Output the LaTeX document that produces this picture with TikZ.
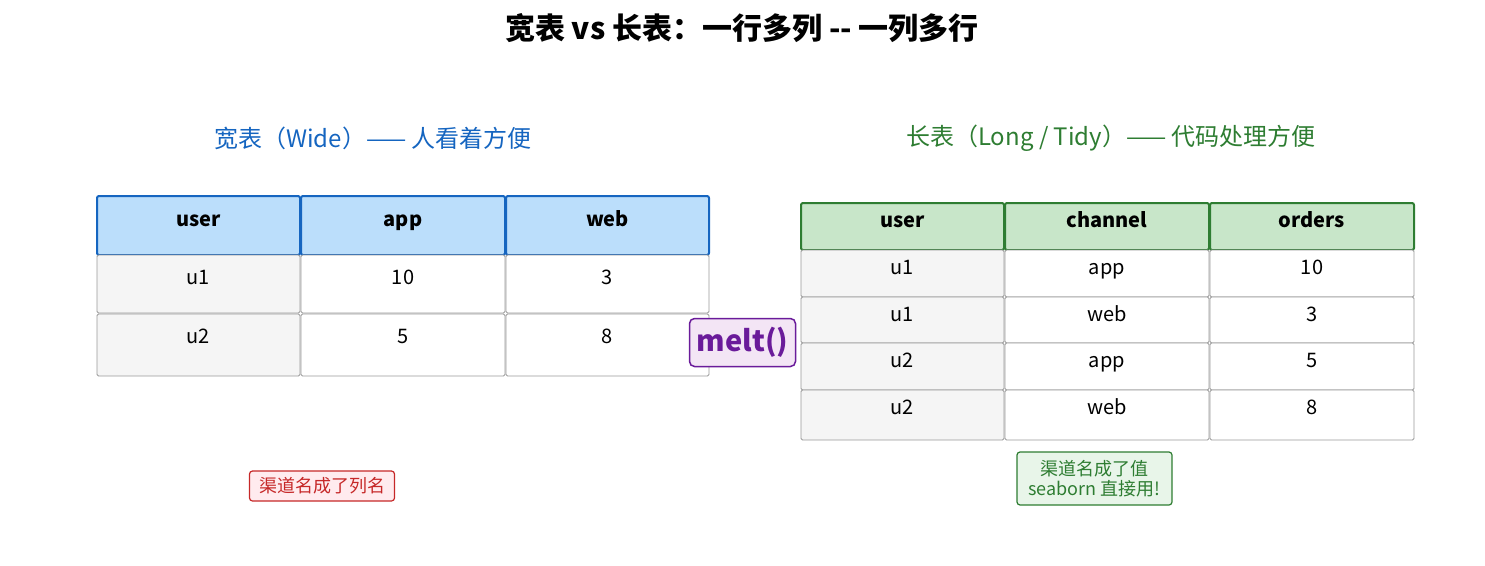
\documentclass[tikz,border=0pt]{standalone}
\usepackage{fontspec}
\setmainfont{Noto Sans CJK SC}
\definecolor{bl}{HTML}{1565C0}\definecolor{blf}{HTML}{BBDEFB}
\definecolor{gr}{HTML}{2E7D32}\definecolor{grf}{HTML}{C8E6C9}
\definecolor{pu}{HTML}{6A1B9A}\definecolor{puf}{HTML}{F3E5F5}
\definecolor{rd}{HTML}{C62828}\definecolor{rdf}{HTML}{FFEBEE}
\definecolor{grl}{HTML}{E8F5E9}
\begin{document}
\begin{tikzpicture}[x=1pt,y=-1pt,
 cell/.style={draw=gray!80,fill=gray!8,rounded corners=1.5pt,line width=0.8pt},
 wcell/.style={draw=gray!80,fill=white,rounded corners=1.5pt,line width=0.8pt},
 bh/.style={draw=bl,fill=blf,rounded corners=2pt,line width=2pt},
 gh/.style={draw=gr,fill=grf,rounded corners=2pt,line width=2pt},
 txt/.style={font=\fontsize{20}{23}\selectfont,inner sep=0pt,text height=14pt,text depth=4pt},
 htxt/.style={font=\fontsize{20}{23}\selectfont\bfseries,inner sep=0pt,text height=14pt,text depth=4pt}]
\useasboundingbox (0,0) rectangle (1485,565);
\node[font=\fontsize{30}{34}\selectfont\bfseries] (title) at (742,28) {宽表 vs 长表：一行多列 {-}{-} 一列多行};
\node[font=\fontsize{24}{28}\selectfont,text=bl] (st1) at (373,138) {宽表（Wide）—— 人看着方便};
\node[font=\fontsize{24}{28}\selectfont,text=gr] (st2) at (1111,138) {长表（Long / Tidy）—— 代码处理方便};
% wide table
\foreach \x/\y/\t [count=\i] in {97/300/user,301/505/app,506/709/web}{
  \draw[bh] (\x,196) rectangle (\y,255);
  \node[htxt] (wh\i) at ({(\x+\y)/2},221) {\t};
}
\foreach \r/\a/\b/\c/\ya/\yb/\yt in {1/u1/10/3/255/313/279,2/u2/5/8/314/376/338}{
  \draw[cell] (97,\ya) rectangle (300,\yb);
  \draw[wcell] (301,\ya) rectangle (505,\yb);
  \draw[wcell] (506,\ya) rectangle (709,\yb);
  \node[txt] (wa\r) at (198,\yt) {\a};
  \node[txt] (wb\r) at (403,\yt) {\b};
  \node[txt] (wc\r) at (607,\yt) {\c};
}
% long table
\foreach \x/\y/\t [count=\i] in {801/1004/user,1005/1209/channel,1210/1414/orders}{
  \draw[gh] (\x,203) rectangle (\y,250);
  \node[htxt] (lh\i) at ({(\x+\y)/2},222) {\t};
}
\foreach \r/\a/\b/\c/\ya/\yb/\yt in {1/u1/app/10/250/297/269,2/u1/web/3/297/343/316,3/u2/app/5/343/390/362,4/u2/web/8/390/440/409}{
  \draw[cell] (801,\ya) rectangle (1004,\yb);
  \draw[wcell] (1005,\ya) rectangle (1209,\yb);
  \draw[wcell] (1210,\ya) rectangle (1414,\yb);
  \node[txt] (la\r) at (902,\yt) {\a};
  \node[txt] (lb\r) at (1107,\yt) {\b};
  \node[txt] (lc\r) at (1312,\yt) {\c};
}
\node[draw=pu,fill=puf,line width=1.5pt,rounded corners=5pt,minimum width=106pt,minimum height=48pt,inner sep=0pt,text=pu,font=\fontsize{29}{32}\selectfont\bfseries] (melt) at (742.5,342.5) {melt()};
\node[draw=rd,fill=rdf,line width=1.2pt,rounded corners=3pt,minimum width=145pt,minimum height=30pt,inner sep=0pt,text=rd,font=\fontsize{18}{21}\selectfont] (n1) at (322,486) {渠道名成了列名};
\node[draw=gr,fill=grl,line width=1.2pt,rounded corners=3pt,minimum width=155pt,minimum height=53pt,inner sep=0pt,text=gr,font=\fontsize{18}{20}\selectfont,align=center] (n2) at (1094.5,478.5) {渠道名成了值\\seaborn 直接用!};
\end{tikzpicture}
\end{document}
